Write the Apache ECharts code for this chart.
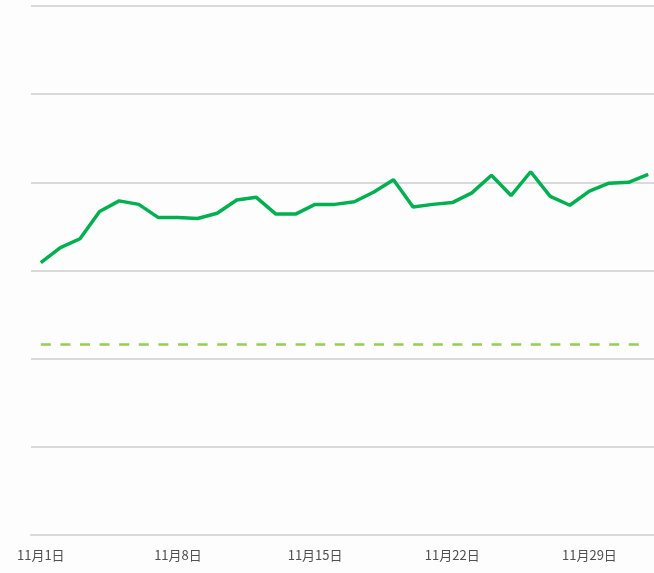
<!DOCTYPE html>
<html>
<head>
<meta charset="utf-8">
<script src="https://cdn.jsdelivr.net/npm/echarts@6/dist/echarts.min.js"></script>
<style>
  html, body { margin: 0; padding: 0; background: #fdfdfd; }
  #main { width: 654px; height: 573px; }
</style>
</head>
<body>
<div id="main"></div>
<script>
// 日期（11月1日 ~ 12月2日）
const days = [
  '11月1日', '11月2日', '11月3日', '11月4日', '11月5日', '11月6日', '11月7日',
  '11月8日', '11月9日', '11月10日', '11月11日', '11月12日', '11月13日', '11月14日',
  '11月15日', '11月16日', '11月17日', '11月18日', '11月19日', '11月20日', '11月21日',
  '11月22日', '11月23日', '11月24日', '11月25日', '11月26日', '11月27日', '11月28日',
  '11月29日', '11月30日', '12月1日', '12月2日'
]

// 每日数值
const values = [
  30.9, 32.6, 33.6, 36.7, 37.9, 37.5, 36.0, 36.0, 35.9, 36.5, 38.0,
  38.3, 36.4, 36.4, 37.5, 37.5, 37.8, 38.9, 40.3, 37.2, 37.5, 37.7,
  38.8, 40.8, 38.5, 41.2, 38.4, 37.4, 39.0, 39.9, 40.0, 40.9
]

// 目标线
const target = 21.6

const yTicks = { min: 0, max: 60, interval: 10 }

const chart = echarts.init(document.getElementById('main'))

chart.setOption({
  backgroundColor: '#fdfdfd',
  animation: false,
  grid: {
    left: 31,
    top: 6,
    width: 627,
    height: 529,
    outerBoundsMode: 'none'
  },
  xAxis: {
    type: 'category',
    data: days,
    boundaryGap: true,
    axisLine: {
      lineStyle: { color: '#d9d9d9', width: 2 }
    },
    axisTick: {
      interval: 6,
      length: 4,
      lineStyle: { color: '#d9d9d9', width: 1 }
    },
    axisLabel: {
      interval: 6,
      margin: 14,
      color: '#505050',
      fontSize: 13,
      fontFamily: 'Noto Sans CJK SC'
    },
    splitLine: { show: false }
  },
  yAxis: {
    type: 'value',
    min: yTicks.min,
    max: yTicks.max,
    interval: yTicks.interval,
    axisLine: { show: false },
    axisTick: { show: false },
    axisLabel: { show: false },
    splitLine: {
      lineStyle: { color: '#d9d9d9', width: 2 }
    }
  },
  series: [{
    type: 'line',
    data: values,
    showSymbol: false,
    lineStyle: { color: '#00b050', width: 3.5 },
    markLine: {
      silent: true,
      symbol: ['none', 'none'],
      label: { show: false },
      lineStyle: { color: '#92d050', width: 2.5, type: [10, 9.6] },
      data: [[
        { coord: [0, target] },
        { coord: [days.length - 1, target] }
      ]]
    }
  }]
})
</script>
</body>
</html>
